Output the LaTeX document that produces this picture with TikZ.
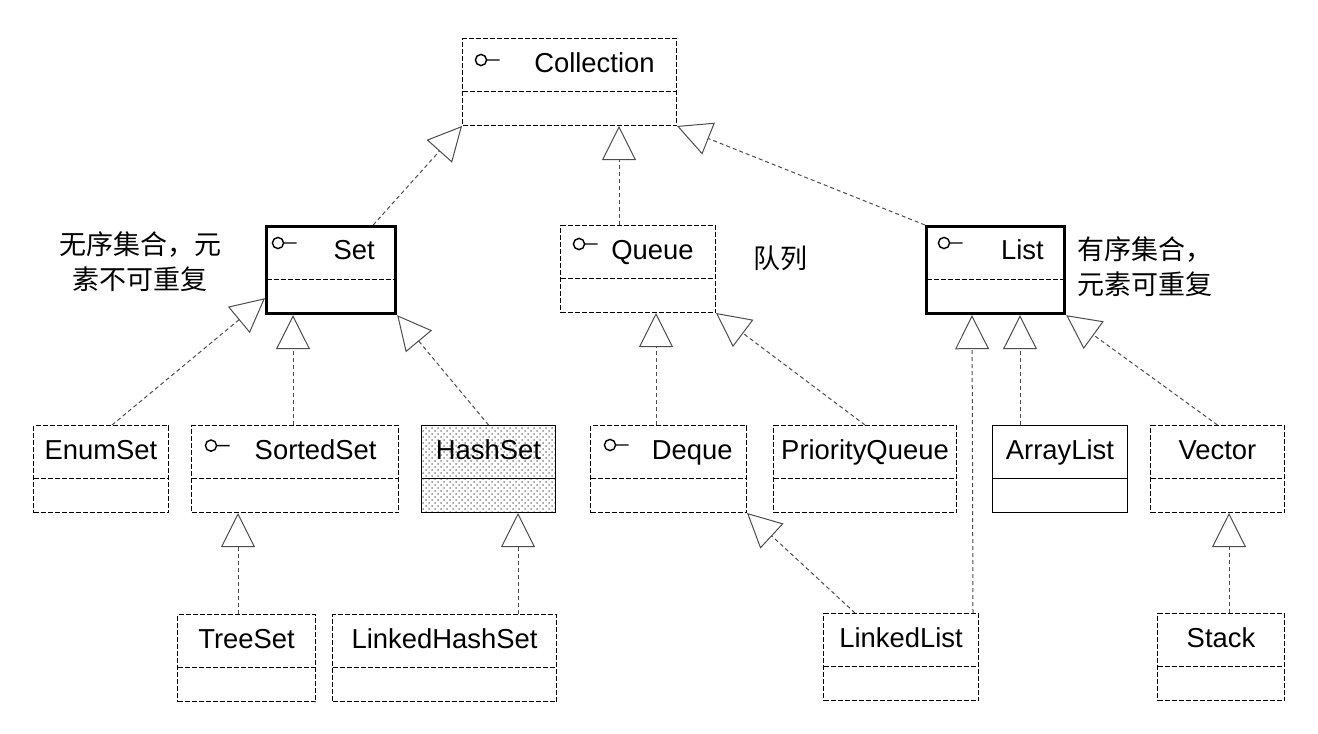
\documentclass[tikz,border=0pt]{standalone}
\usepackage{fontspec}
\setmainfont{Liberation Sans}
\newfontfamily\cjk{Noto Sans CJK SC}
\usetikzlibrary{arrows.meta, patterns}

\tikzset{
  dashline/.style={dash pattern=on 2.5pt off 1pt, line width=0.5pt},
  parts/.style={path picture={\draw[#1] ([yshift=-26.5pt]path picture bounding box.north west) -- ([yshift=-26.5pt]path picture bounding box.north east);}},
  cls/.style={draw, dashline, parts=dashline, anchor=north west, inner sep=0pt, minimum height=43.5pt},
  thickcls/.style={cls, solid, line width=1.6pt},
  solidcls/.style={cls, solid, parts=solid},
  title/.style={font=\fontsize{13.7pt}{16pt}\selectfont, inner sep=0pt, text height=10pt, text depth=3pt},
  note/.style={font=\cjk\fontsize{13.5pt}{17.5pt}\selectfont, inner sep=0pt},
  icon/.style={solid, line width=0.7pt},
  realize/.style={draw=black!70, dash pattern=on 2pt off 1.5pt, line width=0.5pt, -{Triangle[open, length=17pt, width=17pt]}},
}

\begin{document}
\begin{tikzpicture}[x=0.5pt, y=-0.5pt]
  \useasboundingbox (0,0) rectangle (1318,734);

  % interfaces
  \node[cls, minimum width=107pt] (coll) at (462,38) {};
  \node[thickcls, minimum width=64.5pt] (set) at (265,225) {};
  \node[cls, minimum width=77.5pt] (queue) at (560,225) {};
  \node[thickcls, minimum width=69pt] (list) at (925,225) {};
  \node[cls, minimum width=103.5pt] (sortedset) at (191,425) {};
  \node[cls, minimum width=78pt] (deque) at (590,425) {};

  % classes
  \node[cls, minimum width=67.5pt] (enumset) at (33,425) {};
  \node[solidcls, pattern=crosshatch dots, pattern color=black!45, minimum width=67pt] (hashset) at (421,425) {};
  \node[cls, minimum width=91.5pt] (pqueue) at (773,425) {};
  \node[solidcls, minimum width=67.5pt] (arraylist) at (992,425) {};
  \node[cls, minimum width=67pt] (vector) at (1150,425) {};
  \node[cls, minimum width=69pt] (treeset) at (177,614) {};
  \node[cls, minimum width=112pt] (lhashset) at (332,614) {};
  \node[cls, minimum width=77.5pt] (linkedlist) at (823,613) {};
  \node[cls, minimum width=63.5pt] (stack) at (1157,613) {};

  % interface names and icons
  \node[title, anchor=east] (coll t) at ([shift={(-11pt,-13.8pt)}]coll.north east) {Collection};
  \node[title, anchor=east] (set t) at ([shift={(-11pt,-13.8pt)}]set.north east) {Set};
  \node[title, anchor=east] (queue t) at ([shift={(-11pt,-13.8pt)}]queue.north east) {Queue};
  \node[title, anchor=east] (list t) at ([shift={(-11pt,-13.8pt)}]list.north east) {List};
  \node[title, anchor=east] (sortedset t) at ([shift={(-11pt,-13.8pt)}]sortedset.north east) {SortedSet};
  \node[title, anchor=east] (deque t) at ([shift={(-7pt,-13.8pt)}]deque.north east) {Deque};
  \draw[icon] ([shift={(9.5pt,-11pt)}]coll.north west) circle[radius=2.8pt] ++(2.8pt,0) -- ++(6.5pt,0);
  \draw[icon] ([shift={(6.5pt,-9pt)}]set.north west) circle[radius=2.8pt] ++(2.8pt,0) -- ++(6.5pt,0);
  \draw[icon] ([shift={(9.5pt,-9.5pt)}]queue.north west) circle[radius=2.8pt] ++(2.8pt,0) -- ++(6.5pt,0);
  \draw[icon] ([shift={(9.5pt,-9pt)}]list.north west) circle[radius=2.8pt] ++(2.8pt,0) -- ++(6.5pt,0);
  \draw[icon] ([shift={(10pt,-10.3pt)}]sortedset.north west) circle[radius=2.8pt] ++(2.8pt,0) -- ++(6.5pt,0);
  \draw[icon] ([shift={(10pt,-10pt)}]deque.north west) circle[radius=2.8pt] ++(2.8pt,0) -- ++(6.5pt,0);

  % class names
  \node[title] (enumset t) at ([yshift=-13.8pt]enumset.north) {EnumSet};
  \node[title] (hashset t) at ([yshift=-13.8pt]hashset.north) {HashSet};
  \node[title] (pqueue t) at ([yshift=-13.8pt]pqueue.north) {PriorityQueue};
  \node[title] (arraylist t) at ([yshift=-13.8pt]arraylist.north) {ArrayList};
  \node[title] (vector t) at ([yshift=-13.8pt]vector.north) {Vector};
  \node[title] (treeset t) at ([yshift=-13.8pt]treeset.north) {TreeSet};
  \node[title] (lhashset t) at ([yshift=-13.8pt]lhashset.north) {LinkedHashSet};
  \node[title] (linkedlist t) at ([yshift=-13.8pt]linkedlist.north) {LinkedList};
  \node[title] (stack t) at ([yshift=-13.8pt]stack.north) {Stack};

  % notes
  \node[note, align=center] (set note) at (140,262) {无序集合，元\\素不可重复};
  \node[note] (queue note) at (780,258) {队列};
  \node[note, align=left, anchor=west] (list note) at (1077,267) {有序集合，\\元素可重复};

  % realizations
  \draw[realize] ([xshift=-12pt]set.north east) -- (coll.south west);
  \draw[realize] ([xshift=29.5pt]queue.north west) -- ([xshift=78.5pt]coll.south west);
  \draw[realize] (list.north west) -- (coll.south east);
  \draw[realize] ([xshift=39.5pt]enumset.north west) -- ([yshift=8.5pt]set.south west);
  \draw[realize] ([xshift=51pt]sortedset.north west) -- ([xshift=14pt]set.south west);
  \draw[realize] (hashset.north) -- (set.south east);
  \draw[realize] ([xshift=33pt]deque.north west) -- ([xshift=48pt]queue.south west);
  \draw[realize] (pqueue.north) -- (queue.south east);
  \draw[realize] ([xshift=-3pt]linkedlist.north east) -- ([xshift=23.5pt]list.south west);
  \draw[realize] ([xshift=14pt]arraylist.north west) -- ([xshift=47.5pt]list.south west);
  \draw[realize] (vector.north) -- (list.south east);
  \draw[realize] ([xshift=30.5pt]treeset.north west) -- ([xshift=23.5pt]sortedset.south west);
  \draw[realize] ([xshift=93pt]lhashset.north west) -- ([xshift=48.5pt]hashset.south west);
  \draw[realize] ([xshift=36pt]stack.north west) -- ([xshift=39.5pt]vector.south west);
  \draw[realize] ([xshift=16pt]linkedlist.north west) -- (deque.south east);
\end{tikzpicture}
\end{document}
